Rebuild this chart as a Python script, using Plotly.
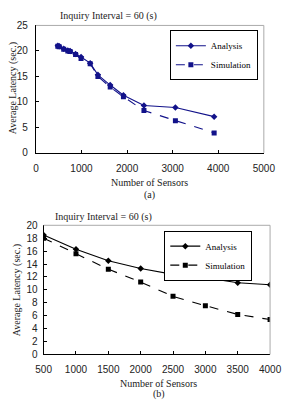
import plotly.graph_objects as go

# ---- data (a) ----
a_x_ana = [480, 510, 610, 700, 750, 870, 990, 1190, 1360, 1630, 1920, 2370, 3060, 3910]
a_y_ana = [21.0, 20.9, 20.4, 20.1, 20.0, 19.4, 18.8, 17.6, 15.3, 13.3, 11.3, 9.3, 8.9, 7.1]
a_x_sim = [480, 510, 610, 700, 750, 870, 990, 1190, 1360, 1630, 1920, 2370, 3060, 3910]
a_y_sim = [20.9, 20.8, 20.3, 20.0, 19.9, 19.3, 18.5, 17.5, 15.0, 12.9, 11.0, 8.3, 6.3, 3.9]

# ---- data (b) ----
b_x = [500, 1000, 1500, 2000, 2500, 3000, 3500, 4000]
b_y_ana = [18.5, 16.3, 14.5, 13.3, 12.4, 11.9, 11.1, 10.8]
b_y_sim = [18.0, 15.6, 13.2, 11.2, 9.0, 7.55, 6.2, 5.4]

W, H = 287, 401
navy = "#12128a"
serif = "Liberation Serif, Times New Roman, serif"
sans = "Liberation Sans, Arial, sans-serif"

fig = go.Figure()
fig.add_trace(go.Scatter(x=a_x_ana, y=a_y_ana, name="Analysis", mode="lines+markers",
                         line=dict(color=navy, width=1.1),
                         marker=dict(symbol="diamond", size=5, color=navy),
                         xaxis="x", yaxis="y", legend="legend"))
fig.add_trace(go.Scatter(x=a_x_sim, y=a_y_sim, name="Simulation", mode="lines+markers",
                         line=dict(color=navy, width=1.1, dash="dash"),
                         marker=dict(symbol="square", size=5, color=navy),
                         xaxis="x", yaxis="y", legend="legend"))
fig.add_trace(go.Scatter(x=b_x, y=b_y_ana, name="Analysis", mode="lines+markers",
                         line=dict(color="black", width=1.1),
                         marker=dict(symbol="diamond", size=5, color="black"),
                         xaxis="x2", yaxis="y2", legend="legend2"))
fig.add_trace(go.Scatter(x=b_x, y=b_y_sim, name="Simulation", mode="lines+markers",
                         line=dict(color="black", width=1.1, dash="dash"),
                         marker=dict(symbol="square", size=5, color="black"),
                         xaxis="x2", yaxis="y2", legend="legend2"))

def px_x(p):
    return p / W

def px_y(p):
    return 1 - p / H

axcommon = dict(showgrid=False, zeroline=False, showline=True, linecolor="black", linewidth=1,
                ticks="inside", ticklen=3, tickcolor="black",
                tickfont=dict(family=sans, size=10, color="#222"))

legcommon = dict(xanchor="left", yanchor="top", bordercolor="black", borderwidth=1, bgcolor="white",
                 font=dict(family=serif, size=9, color="black"), itemwidth=30, tracegroupgap=0)

fig.update_layout(
    width=W, height=H, margin=dict(l=0, r=0, t=0, b=0),
    paper_bgcolor="white", plot_bgcolor="white", showlegend=True,
    xaxis=dict(domain=[px_x(30), px_x(275)], range=[0, 5000], dtick=1000, anchor="y",
               ticklabelstandoff=6, **axcommon),
    yaxis=dict(domain=[px_y(152), px_y(21)], range=[0, 25], dtick=5, anchor="x",
               ticklabelstandoff=5, **axcommon),
    xaxis2=dict(domain=[px_x(38.3), px_x(281.7)], range=[500, 4000], dtick=500, anchor="y2",
                ticklabelstandoff=6, **axcommon),
    yaxis2=dict(domain=[px_y(359.3), px_y(226.5)], range=[0, 20], dtick=2, anchor="x2",
                ticklabelstandoff=3, **axcommon),
    legend=dict(x=px_x(174), y=px_y(26), **legcommon),
    legend2=dict(x=px_x(168), y=px_y(232), **legcommon),
)

# light gray frame on top/right of each plot area
for (x0, x1, y0, y1) in [(30, 275, 21, 152), (38.3, 281.7, 226.5, 359.3)]:
    fig.add_shape(type="line", xref="paper", yref="paper", x0=px_x(x0), x1=px_x(x1), y0=px_y(y0), y1=px_y(y0),
                  line=dict(color="#aaaaaa", width=1))
    fig.add_shape(type="line", xref="paper", yref="paper", x0=px_x(x1), x1=px_x(x1), y0=px_y(y0), y1=px_y(y1),
                  line=dict(color="#aaaaaa", width=1))

def txt(x, y, s, size=10, angle=0):
    fig.add_annotation(x=px_x(x), y=px_y(y), xref="paper", yref="paper", text=s, showarrow=False,
                       xanchor="center", yanchor="top", textangle=angle, borderpad=0,
                       font=dict(family=serif, size=size, color="#222"))

def vtxt(x, y, s, size=10):
    fig.add_annotation(x=px_x(x), y=px_y(y), xref="paper", yref="paper", text=s, showarrow=False,
                       xanchor="center", yanchor="middle", textangle=-90,
                       font=dict(family=serif, size=size, color="#222"))

txt(108, 4, "Inquiry Interval = 60 (s)")
txt(152, 176, "Number of Sensors")
txt(152, 188, "(a)")
vtxt(5, 86, "Average Latency (sec.)")
txt(103, 211, "Inquiry Interval = 60 (s)")
txt(162, 382, "Number of Sensors")
txt(162, 393, "(b)")
vtxt(10, 293, "Average Latency (sec.)")

fig.write_html("out.html")
